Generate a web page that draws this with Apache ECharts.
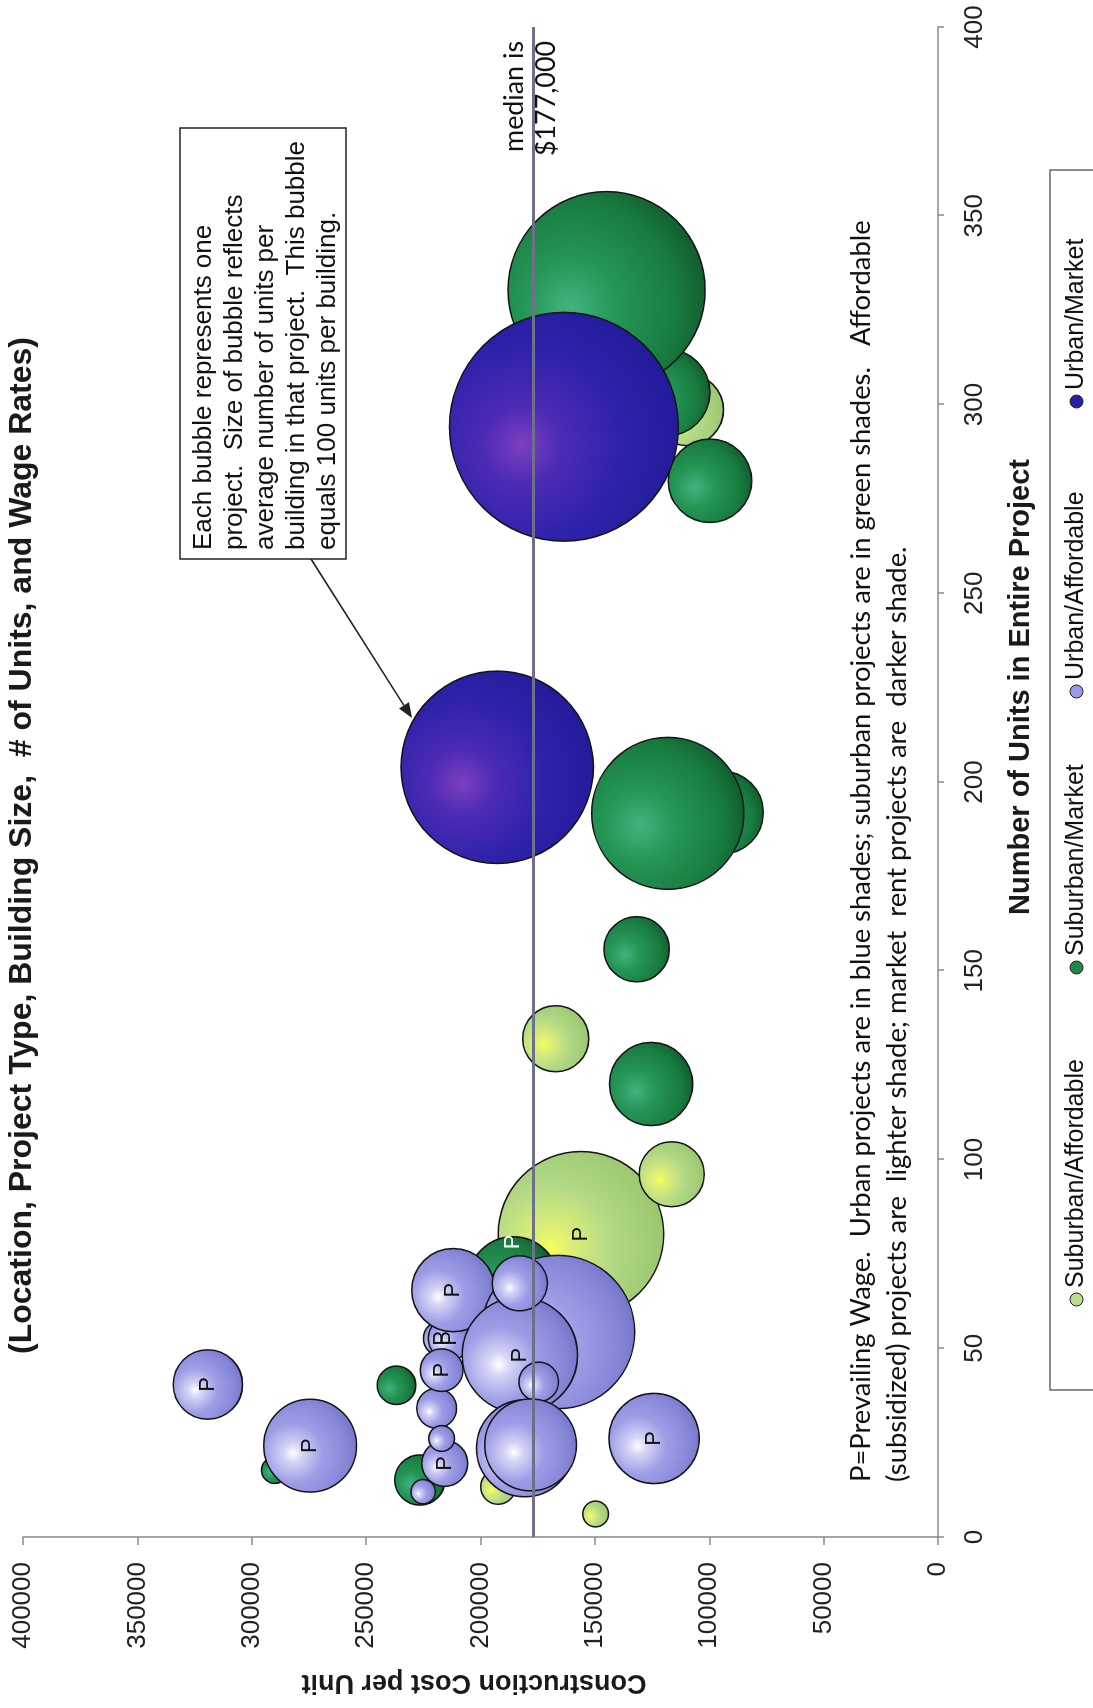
<!DOCTYPE html>
<html>
<head>
<meta charset="utf-8">
<script src="https://cdn.jsdelivr.net/npm/echarts@6.0.0/dist/echarts.min.js"></script>
<style>
html,body{margin:0;padding:0;width:1093px;height:1708px;overflow:hidden;background:#fff;}
#chart{position:absolute;left:0;top:0;width:1708px;height:1093px;transform-origin:0 0;transform:translate(0px,1708px) rotate(-90deg);}
</style>
</head>
<body>
<div id="chart"></div>
<script>
// ---------- data ----------
const seriesNames = ['Suburban/Affordable', 'Suburban/Market', 'Urban/Affordable', 'Urban/Market'];

// Suburban / Affordable (light green)
const saUnits = [6.1, 13.3, 80.2, 96.1, 132, 298.6];
const saCost  = [149700, 192300, 156100, 116400, 167100, 109500];
const saSize  = [1.8, 3.3, 74, 11.4, 11.8, 13.9];
const saWage  = ['', '', 'P', '', '', ''];

// Suburban / Market (dark green)
const smUnits = [17.7, 40.2, 15.1, 67.6, 191.9, 191.7, 155.7, 120, 303.2, 279.8, 330.3];
const smCost  = [289900, 236700, 226500, 185700, 94500, 118100, 131700, 125400, 118700, 99700, 144900];
const smSize  = [1.9, 4.0, 6.8, 22, 18.6, 62.4, 11.5, 18.7, 20.4, 18.8, 105];
const smWage  = ['', '', '', 'P', '', '', '', '', '', '', ''];

// Urban / Affordable (light blue)
const uaUnits = [40.4, 24.2, 12, 19.5, 34.1, 26.1, 52.6, 52.6, 44.2, 65.4, 26.1, 54.3, 48.2, 67.2, 41.1, 23.5, 24.4];
const uaCost  = [319200, 274500, 225100, 215600, 219200, 217000, 217000, 213400, 217000, 211900, 124100, 166100, 182800, 182800, 174500, 180600, 178100];
const uaSize  = [13.0, 23.3, 1.6, 5.7, 4.3, 1.8, 3.5, 5.1, 4.9, 18.7, 22, 63.5, 35.9, 8.2, 4.2, 25.4, 22.8];
const uaWage  = ['P', 'P', '', 'P', '', '', 'P', 'P', 'P', 'P', 'P', '', 'P', '', '', '', ''];

// Urban / Market (dark blue)
const umUnits = [203.9, 294.1];
const umCost  = [192700, 163500];
const umSize  = [100, 141.4];
const umWage  = ['', ''];

const unitsRange = [0, 400];
const unitsStep = 50;
const costRange = [0, 400000];
const costStep = 50000;
const medianCost = 177000;

const titleText = '(Location, Project Type, Building Size,  # of Units, and Wage Rates)';
const noteLines = ['Each bubble represents one', 'project.  Size of bubble reflects', 'average number of units per', 'building in that project.  This bubble', 'equals 100 units per building.'];
const footLines = ['P=Prevailing Wage.  Urban projects are in blue shades; suburban projects are in green shades.   Affordable',
                   '(subsidized) projects are  lighter shade; market  rent projects are  darker shade.'];
const medianLines = ['median is', '$177,000'];

// ---------- layout ----------
const W = 1708, H = 1093;
const grid = {left: 171, right: 27, top: 23, bottom: 155};
const plotH = H - grid.top - grid.bottom;
const maxSize = Math.max(...saSize, ...smSize, ...uaSize, ...umSize);
const maxD = 0.25 * plotH;
const ARIAL = "'Liberation Sans', Arial, sans-serif";
const CAL = "Lato, 'Open Sans', sans-serif";

function fitFont(text, family, weight, target) {
  const ctx = document.createElement('canvas').getContext('2d');
  ctx.font = weight + ' 100px ' + family;
  return 100 * target / ctx.measureText(text).width;
}
const footFont = fitFont(footLines[0], CAL, 'normal', 1262);
const medFont = fitFont(medianLines[0], CAL, 'normal', 111);

function rg(stops) {
  return new echarts.graphic.RadialGradient(0.42, 0.32, 0.78,
    stops.map(s => ({offset: s[0], color: s[1]})));
}
const grads = [
  rg([[0, '#f4ff5a'], [0.16, '#dcee78'], [0.48, '#b2d986'], [0.85, '#9cc870'], [1, '#82b25a']]),
  rg([[0, '#42b37e'], [0.3, '#259656'], [0.7, '#187a3e'], [1, '#0d4c24']]),
  rg([[0, '#ffffff'], [0.12, '#d6d6f6'], [0.4, '#9e9ee7'], [0.75, '#8585d7'], [1, '#6967bf']]),
  rg([[0, '#7b40c0'], [0.22, '#4d2ab4'], [0.55, '#2d22aa'], [1, '#1f1994']])
];
const legendColors = ['#b8e08a', '#1f8a45', '#9a9ae8', '#2a20a8'];
const legendIconX = [408, 740, 1016, 1306];

function makeSeries(idx, units, cost, size, wage, labelColor, labelOffset) {
  return {
    name: seriesNames[idx],
    type: 'scatter',
    data: units.map((u, i) => ({value: [u, cost[i], size[i]], wage: wage[i]})),
    symbolSize: v => maxD * Math.sqrt(v[2] / maxSize),
    itemStyle: {color: grads[idx], borderColor: '#141414', borderWidth: 1.5, opacity: 1},
    label: {
      show: true, position: 'inside', offset: labelOffset,
      formatter: p => p.data.wage || '',
      fontSize: 22, fontFamily: ARIAL, color: labelColor
    },
    emphasis: {disabled: true},
    animation: false
  };
}

const series = [
  makeSeries(0, saUnits, saCost, saSize, saWage, '#111', [0, 0]),
  makeSeries(1, smUnits, smCost, smSize, smWage, '#ffffff', [40, 0]),
  makeSeries(2, uaUnits, uaCost, uaSize, uaWage, '#111', [0, 0]),
  makeSeries(3, umUnits, umCost, umSize, umWage, '#111', [0, 0])
];
series[3].markLine = {
  silent: true, symbol: ['none', 'none'], animation: false,
  label: {show: false},
  lineStyle: {color: '#6c7189', width: 3, type: 'solid'},
  data: [{yAxis: medianCost}]
};

// arrow geometry
const ax1 = 1149, ay1 = 311, ax2 = 990, ay2 = 412;
const alen = Math.hypot(ax2 - ax1, ay2 - ay1);
const ux = (ax2 - ax1) / alen, uy = (ay2 - ay1) / alen;
const bx = ax2 - 15 * ux, by = ay2 - 15 * uy;
const arrowHead = [[ax2, ay2], [bx - 6 * uy, by + 6 * ux], [bx + 6 * uy, by - 6 * ux]];

const legends = seriesNames.map((name, i) => ({
  data: [{name: name, itemStyle: {color: legendColors[i], borderColor: '#222', borderWidth: 1}}],
  left: legendIconX[i] - 6.5, top: 1064, padding: 0,
  icon: 'circle', itemWidth: 13, itemHeight: 13,
  selectedMode: false,
  textStyle: {fontSize: 25, fontFamily: ARIAL, color: '#111'}
}));

const graphics = [
  {type: 'text', x: 1371, y: 22, style: {text: titleText, fontSize: 32, fontWeight: 'bold', fontFamily: ARIAL, fill: '#1a1a1a', align: 'right', verticalAlign: 'middle'}},
  {type: 'text', x: 26, y: 474, rotation: Math.PI / 2, style: {text: 'Construction Cost per Unit', fontSize: 27, fontWeight: 'bold', fontFamily: ARIAL, fill: '#1a1a1a', align: 'center', verticalAlign: 'middle'}},
  {type: 'text', x: 1021, y: 1021, style: {text: 'Number of Units in Entire Project', fontSize: 29, fontWeight: 'bold', fontFamily: ARIAL, fill: '#1a1a1a', align: 'center', verticalAlign: 'middle'}},
  {type: 'rect', shape: {x: 1149, y: 180, width: 431, height: 166}, style: {fill: '#fff', stroke: '#222', lineWidth: 1.5}},
  {type: 'text', x: 1158, y: 188, style: {text: noteLines.join('\n'), fontSize: 26, lineHeight: 31, fontFamily: ARIAL, fill: '#111', align: 'left', verticalAlign: 'top'}},
  {type: 'line', shape: {x1: ax1, y1: ay1, x2: bx, y2: by}, style: {stroke: '#222', lineWidth: 1.5}},
  {type: 'polygon', shape: {points: arrowHead}, style: {fill: '#222'}},
  {type: 'text', x: 1667, y: 514, style: {text: medianLines[0], fontSize: medFont, fontFamily: CAL, fill: '#111', align: 'right', verticalAlign: 'middle'}},
  {type: 'text', x: 1667, y: 546, style: {text: medianLines[1], fontSize: medFont, fontFamily: CAL, fill: '#111', align: 'right', verticalAlign: 'middle'}},
  {type: 'text', x: 226, y: 861, style: {text: footLines[0], fontSize: footFont, fontFamily: CAL, fill: '#111', align: 'left', verticalAlign: 'middle'}},
  {type: 'text', x: 226, y: 897, style: {text: footLines[1], fontSize: footFont, fontFamily: CAL, fill: '#111', align: 'left', verticalAlign: 'middle'}},
  {type: 'rect', shape: {x: 318, y: 1050, width: 1220, height: 120}, style: {fill: 'transparent', stroke: '#666', lineWidth: 1.5}}
];

const chart = echarts.init(document.getElementById('chart'), null, {renderer: 'canvas', width: W, height: H});
chart.setOption({
  backgroundColor: '#ffffff',
  animation: false,
  grid: grid,
  tooltip: {show: false},
  legend: legends,
  xAxis: {
    type: 'value', min: unitsRange[0], max: unitsRange[1], interval: unitsStep,
    axisLine: {show: true, onZero: false, lineStyle: {color: '#8a8a8a', width: 1.5}},
    axisTick: {show: true, length: 6, lineStyle: {color: '#8a8a8a', width: 1.5}},
    axisLabel: {fontSize: 26, fontFamily: ARIAL, color: '#222', margin: 24},
    splitLine: {show: false}
  },
  yAxis: {
    type: 'value', min: costRange[0], max: costRange[1], interval: costStep,
    axisLine: {show: true, onZero: false, lineStyle: {color: '#8a8a8a', width: 1.5}},
    axisTick: {show: true, length: 8, lineStyle: {color: '#8a8a8a', width: 1.5}},
    axisLabel: {fontSize: 26, fontFamily: ARIAL, color: '#222', margin: 25, formatter: v => String(v)},
    splitLine: {show: false}
  },
  graphic: {elements: graphics},
  series: series
});
</script>
</body>
</html>
